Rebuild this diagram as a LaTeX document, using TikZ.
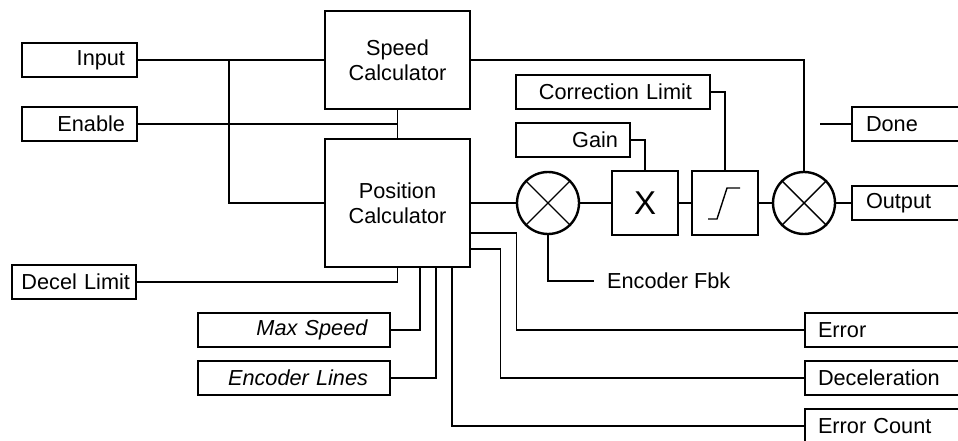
\documentclass[tikz,border=0pt]{standalone}
\usepackage{fontspec}
\setmainfont{Liberation Sans}
\usetikzlibrary{positioning,calc}
\tikzset{wire/.style={line width=1.4pt,draw=black},
  box/.style={draw,line width=1.4pt,minimum height=34pt,inner xsep=12pt,inner ysep=0pt},
  inbox/.style={box,align=right,text width=#1},
  outbox/.style={box,align=left,text width=#1},
  calcbox/.style={box,align=center,minimum width=145pt},
  sumnode/.style={circle,draw,line width=2.4pt,minimum size=62pt,inner sep=0pt},
  opbox/.style={draw,line width=1.4pt,minimum width=66pt,minimum height=64pt,inner sep=0pt}}

\begin{document}
\begin{tikzpicture}[x=1pt,y=-1pt,font=\fontsize{21.7}{25.5}\selectfont]
\useasboundingbox (0,0) rectangle (958,441);
\clip (0,0) rectangle (958,441);
\node[inbox=91] (input) at (79.5,60) {Input};
\node[inbox=91] (enable) at (79.5,124) {Enable};
\node[inbox=112,inner xsep=6pt] (decel) at (74,282) {Decel Limit};
\node[inbox=148,inner xsep=22pt] (maxspd) at (294,330) {\textit{Max Speed}};
\node[inbox=148,inner xsep=22pt] (enclines) at (294,378) {\textit{Encoder Lines}};
\node[inbox=158,inner xsep=18pt] (corrlim) at (613,92) {Correction Limit};
\node[inbox=90] (gain) at (573,140) {Gain};
\node[calcbox,minimum height=98pt] (speed) at (397.5,60) {Speed\\Calculator};
\node[calcbox,minimum height=128pt] (pos) at (397.5,203) {Position\\Calculator};
\node[sumnode] (sumA) at (548,203) {};
\node[opbox,font=\fontsize{33}{33}\selectfont,text depth=-6pt] (gainx) at (645,203) {X};
\node[opbox] (limit) at (725,203) {};
\node[sumnode] (sumB) at (804,203) {};
\node[outbox=95,inner xsep=14pt] (done) at (913.5,124) {Done};
\node[outbox=95,inner xsep=14pt] (output) at (913.5,203) {Output};
\node[outbox=144,inner xsep=13pt] (error) at (890,330) {Error};
\node[outbox=144,inner xsep=13pt] (decelout) at (890,378) {Deceleration};
\node[outbox=144,inner xsep=13pt] (errcnt) at (890,426) {Error Count};
\node[anchor=west,inner xsep=13pt] (encfbk) at (594,281) {Encoder Fbk};
\coordinate (injoin) at (229,60);
\coordinate (donein) at (820,124);
\foreach \s in {sumA,sumB}{\draw[wire] (\s.45) -- (\s.225) (\s.135) -- (\s.315);}
\draw[wire] ([shift={(-17,16)}]limit.center) -- ++(9,0) -- ++(10,-31) -- ++(13,0);
\draw[wire] (input.east) -- (speed.west);
\draw[wire] (injoin) |- (pos.west);
\draw[wire] (speed.south) -- (pos.north);
\draw[wire] (enable.east) -- (enable.east -| speed.south);
\draw[wire] (decel.east) -| (pos.south);
\draw[wire] (maxspd.east) -| ([xshift=22.5pt]pos.south);
\draw[wire] (enclines.east) -| ([xshift=38.5pt]pos.south);
\draw[wire] ([xshift=54.5pt]pos.south) |- (errcnt.west);
\draw[wire] (pos.east) -- (sumA) -- (gainx) -- (limit) -- (sumB) -- (output);
\draw[wire] (gain.east) -| (gainx.north);
\draw[wire] (corrlim.east) -| (limit.north);
\draw[wire] (speed.east) -| (sumB.north);
\draw[wire] (donein) -- (done.west);
\draw[wire] ([yshift=-30pt]pos.east) -- ++(46,0) |- (error.west);
\draw[wire] ([yshift=-46pt]pos.east) -- ++(30,0) |- (decelout.west);
\draw[wire] (sumA.south) |- (encfbk.west);
\end{tikzpicture}
\end{document}
